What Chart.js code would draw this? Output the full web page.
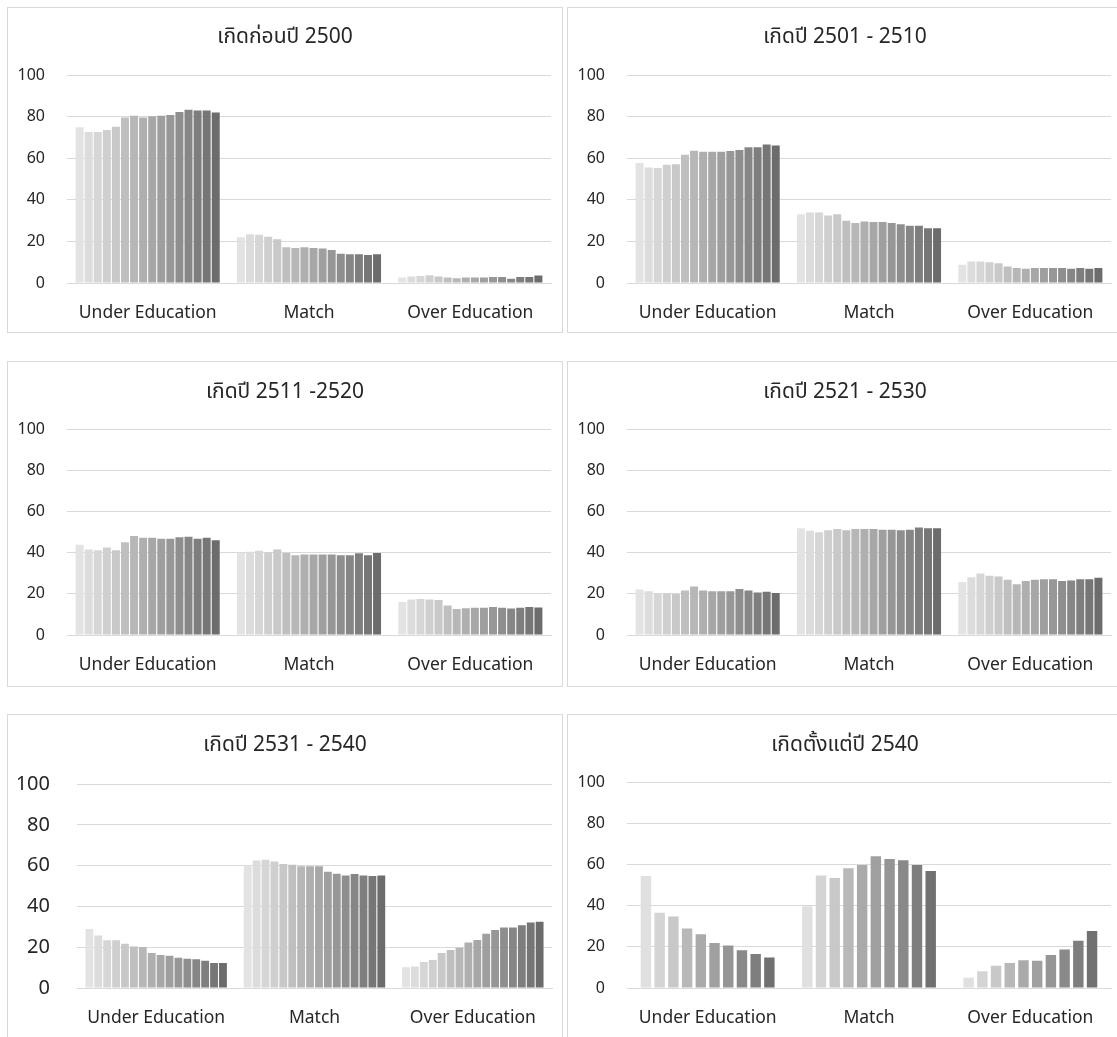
<!DOCTYPE html>
<html>
<head>
<meta charset="utf-8">
<script src="https://cdn.jsdelivr.net/npm/chart.js@4.4.1/dist/chart.umd.min.js"></script>
<style>
  html, body { margin: 0; padding: 0; background: #ffffff; overflow: hidden; }
  body { width: 1117px; height: 1037px; position: relative; }
  .panel { position: absolute; width: 556px; height: 326px; box-sizing: border-box; border: 1px solid #d9d9d9; background: #fff; }
  .panel canvas { position: absolute; left: -1px; top: -1px; }
</style>
</head>
<body>
<div class="panel" id="p1" style="left:7px;top:7px"><canvas id="c1" width="556" height="326"></canvas></div>
<div class="panel" id="p2" style="left:567px;top:7px"><canvas id="c2" width="556" height="326"></canvas></div>
<div class="panel" id="p3" style="left:7px;top:361px"><canvas id="c3" width="556" height="326"></canvas></div>
<div class="panel" id="p4" style="left:567px;top:361px"><canvas id="c4" width="556" height="326"></canvas></div>
<div class="panel" id="p5" style="left:7px;top:714px"><canvas id="c5" width="556" height="326"></canvas></div>
<div class="panel" id="p6" style="left:567px;top:714px"><canvas id="c6" width="556" height="326"></canvas></div>
<script>
// Education–job match shares (%) by birth cohort, one bar per survey year
const categories = ['Under Education', 'Match', 'Over Education'];
const yTicks = [0, 20, 40, 60, 80, 100];

const titles = ['เกิดก่อนปี 2500', 'เกิดปี 2501 - 2510', 'เกิดปี 2511 -2520',
                'เกิดปี 2521 - 2530', 'เกิดปี 2531 - 2540', 'เกิดตั้งแต่ปี 2540'];

// born before 2500
const underPre2500 = [74.9, 72.7, 72.7, 73.6, 75.2, 79.7, 80.5, 79.7, 80.2, 80.5, 80.9, 82.3, 83.4, 83.0, 83.0, 82.0];
const matchPre2500 = [22.0, 23.5, 23.2, 22.2, 21.1, 17.2, 16.9, 17.2, 16.9, 16.6, 15.9, 14.1, 13.8, 13.8, 13.5, 13.8];
const overPre2500  = [2.6, 3.1, 3.4, 3.7, 3.1, 2.6, 2.3, 2.6, 2.6, 2.6, 2.9, 2.9, 2.1, 2.9, 2.9, 3.6];

// born 2501 - 2510
const under2501 = [57.7, 55.6, 55.3, 56.9, 57.1, 61.7, 63.7, 63.2, 63.2, 63.2, 63.5, 64.0, 65.3, 65.3, 66.6, 66.2];
const match2501 = [33.1, 33.9, 33.9, 32.5, 33.1, 29.9, 28.9, 29.6, 29.3, 29.3, 28.9, 28.3, 27.5, 27.5, 26.4, 26.4];
const over2501  = [8.8, 10.3, 10.3, 10.0, 9.5, 8.0, 7.2, 6.9, 7.2, 7.2, 7.2, 7.2, 6.9, 7.2, 6.9, 7.2];

// born 2511 - 2520
const under2511 = [43.8, 41.5, 41.2, 42.5, 41.2, 45.1, 48.1, 47.3, 47.3, 46.8, 46.8, 47.5, 47.8, 46.8, 47.3, 46.0];
const match2511 = [39.9, 40.5, 40.9, 40.2, 41.5, 39.9, 38.8, 39.1, 39.1, 39.1, 39.1, 38.8, 38.8, 39.7, 38.8, 39.9];
const over2511  = [16.0, 17.3, 17.5, 17.2, 17.0, 14.3, 12.6, 13.0, 13.2, 13.3, 13.6, 13.2, 12.9, 13.2, 13.6, 13.4];

// born 2521 - 2530
const under2521 = [22.1, 21.2, 20.2, 20.2, 19.9, 21.6, 23.6, 21.6, 21.3, 21.2, 21.2, 22.3, 21.6, 20.7, 21.0, 20.4];
const match2521 = [51.9, 50.7, 49.9, 50.9, 51.5, 50.9, 51.5, 51.5, 51.5, 51.2, 51.2, 50.9, 51.2, 52.2, 51.9, 51.9];
const over2521  = [25.8, 28.1, 29.9, 28.8, 28.4, 26.8, 24.7, 26.2, 26.8, 27.1, 27.1, 26.2, 26.5, 27.1, 27.1, 27.8];

// born 2531 - 2540
const under2531 = [28.9, 25.8, 23.4, 23.4, 21.7, 20.4, 20.1, 17.2, 16.2, 15.8, 14.9, 14.4, 14.1, 13.4, 12.3, 12.3];
const match2531 = [60.1, 62.6, 62.9, 62.1, 60.8, 60.5, 59.8, 59.8, 59.8, 57.0, 56.0, 55.2, 55.9, 55.2, 54.9, 55.2];
const over2531  = [10.2, 10.5, 12.8, 13.8, 17.2, 18.7, 19.8, 22.3, 23.6, 26.6, 28.5, 29.7, 29.7, 30.8, 32.1, 32.5];

// born 2540 onwards
const under2540 = [54.4, 36.6, 34.8, 28.9, 26.1, 21.9, 20.6, 18.4, 16.5, 14.8];
const match2540 = [39.7, 54.7, 53.4, 58.2, 59.8, 64.0, 62.7, 62.1, 59.8, 56.8];
const over2540  = [5.0, 8.1, 10.8, 12.1, 13.5, 13.2, 16.0, 18.7, 22.9, 27.7];

// grey ramps, light (earliest year) to dark (latest year)
const greys16 = ['#e3e3e3', '#dcdcdc', '#d6d6d6', '#cfcfcf', '#c8c8c8', '#bfbfbf', '#b7b7b7', '#afafaf',
                 '#a7a7a7', '#9f9f9f', '#979797', '#8e8e8e', '#868686', '#7e7e7e', '#767676', '#6c6c6c'];
const greys10 = ['#e0e0e0', '#d4d4d4', '#c8c8c8', '#b8b8b8', '#aaaaaa', '#a0a0a0', '#959595', '#898989', '#7e7e7e', '#717171'];

const FONT = "'Noto Sans', 'Noto Sans Thai', Tahoma, 'Leelawadee UI', sans-serif";
const TEXT = '#262626';
const GRID = '#d9d9d9';

function drawPanel(canvasId, title, under, match, over, colors, o) {
  const datasets = under.map((_, i) => ({
    data: [under[i], match[i], over[i]],
    backgroundColor: colors[i],
    borderWidth: 0,
    barPercentage: o.barPct,
    categoryPercentage: o.catPct
  }));
  new Chart(document.getElementById(canvasId), {
    type: 'bar',
    data: { labels: categories, datasets },
    options: {
      responsive: false,
      animation: false,
      devicePixelRatio: 1,
      layout: { padding: { left: o.side, right: o.side, top: 0, bottom: 0 } },
      plugins: {
        legend: { display: false },
        tooltip: { enabled: false },
        title: {
          display: true,
          text: title,
          color: TEXT,
          font: { family: FONT, size: 21, weight: 'normal', lineHeight: 1.2 },
          padding: { top: o.titleTop, bottom: o.titleBottom }
        }
      },
      scales: {
        x: {
          grid: { display: false, drawTicks: false },
          border: { display: true, color: GRID, width: 1 },
          ticks: { color: TEXT, font: { family: FONT, size: 17.5 }, padding: o.xPad, maxRotation: 0, autoSkip: false },
          afterFit: s => { s.height = o.xHeight; }
        },
        y: {
          min: 0,
          max: 100,
          afterBuildTicks: s => { s.ticks = yTicks.map(v => ({ value: v })); },
          ticks: { color: TEXT, font: { family: FONT, size: o.yFont }, padding: o.yPad },
          grid: { color: GRID, lineWidth: 1, drawTicks: false },
          border: { display: false },
          afterFit: s => { s.width = o.yWidth; }
        }
      }
    }
  });
}

const base = { side: 12, yWidth: 48, yPad: 22, yFont: 16, titleTop: 17, titleBottom: 26, xHeight: 50, xPad: 20, barPct: 0.88, catPct: 0.9 };

drawPanel('c1', titles[0], underPre2500, matchPre2500, overPre2500, greys16, base);
drawPanel('c2', titles[1], under2501, match2501, over2501, greys16, base);
drawPanel('c3', titles[2], under2511, match2511, over2511, greys16, Object.assign({}, base, { titleTop: 18, titleBottom: 25, xHeight: 52 }));
drawPanel('c4', titles[3], under2521, match2521, over2521, greys16, Object.assign({}, base, { titleTop: 18, titleBottom: 25, xHeight: 52 }));
drawPanel('c5', titles[4], under2531, match2531, over2531, greys16,
  Object.assign({}, base, { side: 11, yWidth: 59, yPad: 27, yFont: 20, titleTop: 18, titleBottom: 27, xHeight: 52 }));
drawPanel('c6', titles[5], under2540, match2540, over2540, greys10,
  Object.assign({}, base, { titleTop: 18, titleBottom: 25, xHeight: 52, barPct: 0.76, catPct: 0.85 }));
</script>
</body>
</html>
